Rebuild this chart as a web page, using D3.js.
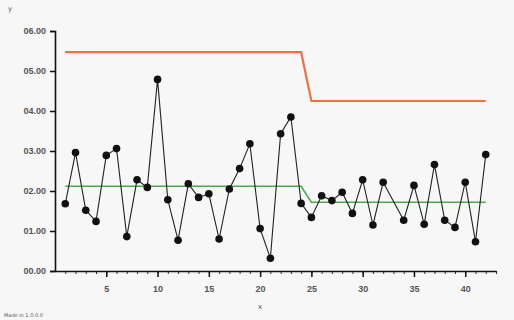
<!DOCTYPE html>
<html>
<head>
<meta charset="utf-8">
<script src="https://cdn.jsdelivr.net/npm/d3@7"></script>
<style>
  html, body { margin: 0; padding: 0; background: #f7f7f7; }
  svg { display: block; font-family: "DejaVu Sans", sans-serif; }
</style>
</head>
<body>
<script>
// Data
const xs = [1,2,3,4,5,6,7,8,9,10,11,12,13,14,15,16,17,18,19,20,21,22,23,24,25,26,27,28,29,30,31,32,34,35,36,37,38,39,40,41,42];
const ys = [1.68,2.96,1.52,1.24,2.89,3.06,0.86,2.28,2.09,4.79,1.78,0.77,2.18,1.84,1.93,0.80,2.05,2.56,3.18,1.06,0.32,3.43,3.85,1.69,1.34,1.88,1.76,1.97,1.44,2.28,1.15,2.22,1.27,2.14,1.17,2.66,1.27,1.09,2.22,0.73,2.91];
const limitX = [1, 24, 25, 42];
const uclValues = [5.47, 5.47, 4.25, 4.25];
const centerValues = [2.12, 2.12, 1.72, 1.72];
const yTicks = [0,1,2,3,4,5,6];
const xTicks = [5,10,15,20,25,30,35,40];
const xLabel = "x";
const yLabel = "y";
const footnote = "Made in 1.0.0.0";

const W = 514, H = 320;
const svg = d3.select("body").append("svg").attr("width", W).attr("height", H);

const x = d3.scaleLinear().domain([0, 43]).range([55, 496]);
const y = d3.scaleLinear().domain([0, 6]).range([271, 31]);

// Y axis
const yAxis = d3.axisLeft(y).tickValues(yTicks).tickFormat(d3.format("05.2f")).tickSize(5).tickPadding(4);
const gy = svg.append("g").attr("transform", `translate(${x(0)},0)`).call(yAxis);
gy.select(".domain").attr("stroke", "#111").attr("stroke-width", 1.6);
gy.selectAll(".tick line").attr("stroke", "#111").attr("stroke-width", 1.5);
gy.selectAll("text").attr("fill", "#555").attr("font-size", 9).attr("font-weight", "bold");

// X axis minor ticks
const gxm = svg.append("g").attr("transform", `translate(0,${y(0)})`)
  .call(d3.axisBottom(x).tickValues(d3.range(1, 44)).tickSize(3).tickFormat(""));
gxm.select(".domain").remove();
gxm.selectAll(".tick line").attr("stroke", "#333").attr("stroke-width", 1);

// X axis major
const gx = svg.append("g").attr("transform", `translate(0,${y(0)})`)
  .call(d3.axisBottom(x).tickValues(xTicks).tickSize(6).tickPadding(9).tickSizeOuter(0));
gx.select(".domain").attr("stroke", "#111").attr("stroke-width", 1.6);
gx.selectAll(".tick line").attr("stroke", "#111").attr("stroke-width", 1.5);
gx.selectAll("text").attr("fill", "#555").attr("font-size", 9).attr("font-weight", "bold");

// Axis titles
svg.append("text").attr("x", 8).attr("y", 11).attr("fill", "#555").attr("font-size", 7).text(yLabel);
svg.append("text").attr("x", x(20)).attr("y", 309).attr("text-anchor", "middle").attr("fill", "#555").attr("font-size", 7).text(xLabel);
svg.append("text").attr("x", 4).attr("y", 317).attr("fill", "#555").attr("font-size", 5).text(footnote);

const line = d3.line().x(d => x(d[0])).y(d => y(d[1]));

// Limit lines
svg.append("path").datum(limitX.map((v, i) => [v, uclValues[i]]))
  .attr("d", line).attr("fill", "none").attr("stroke", "#f0703f").attr("stroke-width", 2.2);
svg.append("path").datum(limitX.map((v, i) => [v, centerValues[i]]))
  .attr("d", line).attr("fill", "none").attr("stroke", "#4caa4c").attr("stroke-width", 1.6);

// Data line
const pts = xs.map((v, i) => [v, ys[i]]);
svg.append("path").datum(pts).attr("d", line).attr("fill", "none").attr("stroke", "#222").attr("stroke-width", 1.1);
svg.append("g").selectAll("circle").data(pts).join("circle")
  .attr("cx", d => x(d[0])).attr("cy", d => y(d[1])).attr("r", 3.8).attr("fill", "#111");
</script>
</body>
</html>
